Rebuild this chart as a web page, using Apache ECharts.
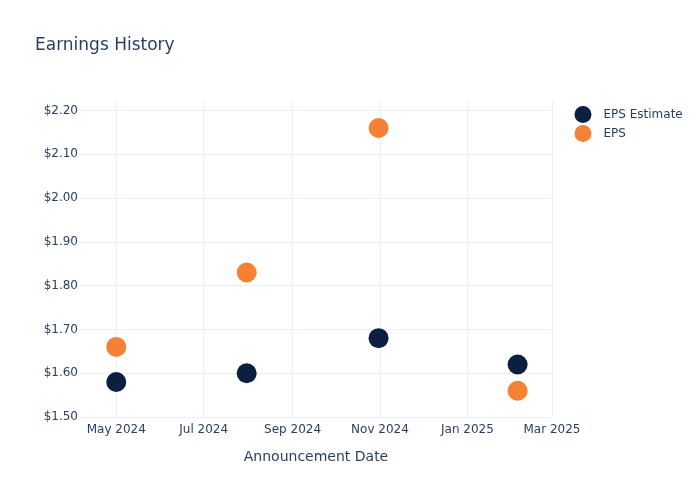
<!DOCTYPE html>
<html>
<head>
<meta charset="utf-8">
<script src="https://cdn.jsdelivr.net/npm/echarts@6/dist/echarts.min.js"></script>
<style>
html,body{margin:0;padding:0;background:#fff;}
#chart{width:700px;height:500px;}
</style>
</head>
<body>
<div id="chart"></div>
<script>
const dates = ['2024-05-01', '2024-07-31', '2024-10-31', '2025-02-05'];
const epsEstimate = [1.58, 1.60, 1.68, 1.62];
const eps = [1.66, 1.83, 2.16, 1.56];
const xTickDates = ['2024-05-01', '2024-07-01', '2024-09-01', '2024-11-01', '2025-01-01', '2025-03-01'];
const xTickLabels = ['May 2024', 'Jul 2024', 'Sep 2024', 'Nov 2024', 'Jan 2025', 'Mar 2025'];

const ts = d => new Date(d + 'T00:00:00Z').getTime();
const xTicks = xTickDates.map(ts);
const labelMap = {};
xTicks.forEach((t, i) => labelMap[t] = xTickLabels[i]);

const font = 'DejaVu Sans, sans-serif';
const textColor = '#2a3f5f';
const gridColor = '#ebf0f8';

const chart = echarts.init(document.getElementById('chart'), null, {renderer: 'canvas'});
chart.setOption({
  animation: false,
  backgroundColor: '#fff',
  textStyle: {fontFamily: font},
  title: {
    text: 'Earnings History',
    left: 30, top: 32,
    textStyle: {fontFamily: font, fontSize: 17, fontWeight: 'normal', color: textColor}
  },
  legend: {
    orient: 'vertical',
    left: 569.5, top: 101,
    itemWidth: 17, itemHeight: 17, itemGap: 2,
    icon: 'circle',
    textStyle: {fontFamily: font, fontSize: 12, color: textColor, padding: [0, 0, 0, 7]},
    data: ['EPS Estimate', 'EPS']
  },
  grid: {left: 80, right: 148, top: 100, bottom: 83, containLabel: false},
  xAxis: {
    type: 'value',
    min: ts('2024-04-05') + 17 * 3600 * 1000,
    max: ts('2025-03-01'),
    name: 'Announcement Date',
    nameLocation: 'middle',
    nameGap: 33,
    nameTextStyle: {fontFamily: font, fontSize: 14, color: textColor},
    axisLine: {show: false},
    axisTick: {show: false, customValues: xTicks},
    axisLabel: {
      customValues: xTicks,
      formatter: v => labelMap[v] || '',
      fontFamily: font, fontSize: 12, color: textColor, margin: 7
    },
    splitLine: {show: true, lineStyle: {color: gridColor, width: 1}}
  },
  yAxis: {
    type: 'value',
    min: 1.5, max: 2.224, interval: 0.1,
    axisLine: {show: false},
    axisTick: {show: false},
    axisLabel: {
      showMaxLabel: false,
      formatter: v => '$' + v.toFixed(2),
      fontFamily: font, fontSize: 12, color: textColor, margin: 2
    },
    splitLine: {show: true, showMaxLine: false, lineStyle: {color: gridColor, width: 1}}
  },
  series: [
    {
      name: 'EPS Estimate', type: 'scatter', symbolSize: 20,
      itemStyle: {color: '#0c1f40', opacity: 1},
      data: dates.map((d, i) => [ts(d), epsEstimate[i]])
    },
    {
      name: 'EPS', type: 'scatter', symbolSize: 20,
      itemStyle: {color: '#f58134', opacity: 1},
      data: dates.map((d, i) => [ts(d), eps[i]])
    }
  ]
});
</script>
</body>
</html>
